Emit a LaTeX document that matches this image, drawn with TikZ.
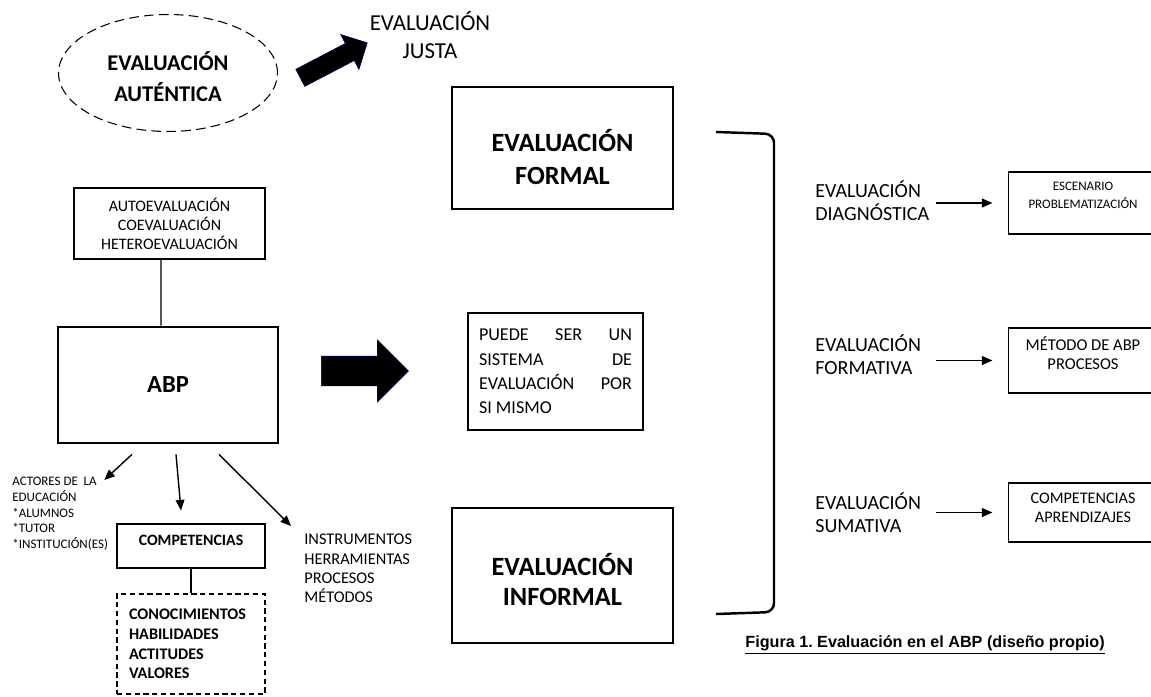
\documentclass[tikz,border=0pt]{standalone}
\usepackage{fontspec}
\setmainfont{Carlito}
\newfontfamily\capfont{Liberation Sans}
\usepackage{tikz}
\usetikzlibrary{
    arrows.meta,
    positioning,
    calc,
    shapes,
    shapes.geometric,
    shapes.arrows
}
\tikzset{
    smalltip /.tip = {Triangle[length=6pt,width=5pt]}
  }
\tikzset{
    thickbox/.style = {draw, line width=1.6pt, align=center, inner sep=0pt},
    thinbox/.style = {draw, line width=0.6pt, align=center, inner sep=0pt},
    rightbox/.style = {thinbox, minimum width=3cm},
    fatarrow/.style = {single arrow, fill=black, draw=blue!35!black,
      line width=0.4pt, inner xsep=0pt, text height=0pt, text depth=0pt,
      anchor=tail},
    thinarrow/.style = {-smalltip, line width=0.8pt},
    evallabel/.style = {anchor=west, align=left, inner sep=0pt,
      font=\fsz{11.4}{13.2}}
  }
\newcommand{\fsz}[2]{\fontsize{#1}{#2}\selectfont}

\begin{document}
\begin{tikzpicture}[x=0.02cm,y=-0.02cm]

\clip (0,0) rectangle (1151,696);

\node[ellipse, draw, dashed, dash pattern=on 5.5pt off 3pt, line width=0.6pt,
      minimum width=4.38cm, minimum height=2.34cm, inner sep=0pt,
      text height=32pt, align=center, font=\fsz{12.8}{17.6}\bfseries]
  at (168,73) (autentica) {EVALUACIÓN\\AUTÉNTICA};

\node[fatarrow, inner ysep=0.185cm, single arrow head extend=0.2cm,
      minimum height=1.51cm, rotate=27.6]
  at (300,78) (arrowjusta) {};

\node[align=center, font=\fsz{13}{16.4}]
  at (430,35) (justa) {EVALUACIÓN\\JUSTA};


\node[thinbox, minimum width=3.82cm, minimum height=1.42cm,
      font=\fsz{9.1}{10.8}]
  at (169.5,223.5) (tipos) {AUTOEVALUACIÓN\\COEVALUACIÓN\\HETEROEVALUACIÓN};

\node[thickbox, minimum width=4.4cm, minimum height=2.32cm,
      font=\fsz{14}{17}\bfseries]
  at (168,385) (abp) {ABP};

\draw[line width=0.6pt] ([xshift=-0.17cm]tipos.south) -- ([xshift=-0.14cm]abp.north);

\node[fatarrow, inner ysep=0.29cm, single arrow head extend=0.32cm,
      minimum height=1.74cm]
  at (321,371) (arrowabp) {};


\node[anchor=north west, align=left, inner sep=0pt, font=\fsz{7.4}{8.9}]
  at (12,477) (actores)
  {ACTORES DE~~LA\\EDUCACIÓN\\*ALUMNOS\\*TUTOR\\*INSTITUCIÓN(ES)};

\node[thinbox, minimum width=2.96cm, minimum height=0.88cm, text depth=7pt,
      font=\fsz{9}{11}\bfseries]
  at (191,546) (compe) {COMPETENCIAS};

\node[draw, dashed, dash pattern=on 3pt off 2pt, line width=0.6pt,
      minimum width=2.96cm, minimum height=2cm, inner xsep=0.24cm,
      text width=2.48cm, align=left, font=\fsz{9.2}{11.2}\bfseries]
  at (191,644) (saberes) {CONOCIMIENTOS\\HABILIDADES\\ACTITUDES\\VALORES};

\draw[line width=0.6pt] (compe.south) -- (saberes.north);

\node[anchor=north west, align=left, inner sep=0pt, font=\fsz{9.3}{11}]
  at (304,534) (instrumentos)
  {INSTRUMENTOS\\HERRAMIENTAS\\PROCESOS\\MÉTODOS};

\draw[thinarrow] ([shift={(-36,10)}]abp.south) -- ([shift={(-4,3)}]actores.north east);
\draw[thinarrow] ([shift={(8,10)}]abp.south) -- ([shift={(-10,-13)}]compe.north);
\draw[thinarrow] ([shift={(51,10)}]abp.south) -- ([shift={(-13,-8)}]instrumentos.north west);


\node[thickbox, minimum width=4.42cm, minimum height=2.44cm, text height=41.9pt,
      font=\fsz{15}{18.7}\bfseries]
  at (562.5,148) (formal) {EVALUACIÓN\\FORMAL};

\node[thinbox, minimum width=3.5cm, minimum height=2.34cm, inner xsep=0.22cm,
      text width=3.06cm, align=justify, font=\fsz{10.3}{13.8}]
  at (555.5,371.5) (sistema)
  {PUEDE SER UN\linebreak SISTEMA DE\linebreak EVALUACIÓN POR\linebreak SI MISMO};

\node[thickbox, minimum width=4.42cm, minimum height=2.7cm, text height=34pt,
      font=\fsz{15}{17}\bfseries]
  at (562.5,575.5) (informal) {EVALUACIÓN\\INFORMAL};

\draw[line width=1.4pt, rounded corners=5pt]
  (716,132) -- (774,134) -- (774,612) -- (716,614);


\node[evallabel] at (815,201) (diagnostica) {EVALUACIÓN\\DIAGNÓSTICA};
\node[evallabel] at (815,355) (formativa) {EVALUACIÓN\\FORMATIVA};
\node[evallabel] at (815,513) (sumativa) {EVALUACIÓN\\SUMATIVA};

\node[rightbox, minimum height=1.24cm, text depth=9pt,
      font=\fsz{7.4}{10.2}]
  at (1083,203) (escenario) {ESCENARIO\\PROBLEMATIZACIÓN};

\node[rightbox, minimum height=1.3cm, text depth=8pt,
      font=\fsz{9.4}{10.8}]
  at (1083,360.5) (metodo) {MÉTODO DE ABP\\PROCESOS};

\node[rightbox, minimum height=1.18cm, text depth=5.6pt,
      font=\fsz{9.2}{10.8}]
  at (1083,512.5) (aprendizajes) {COMPETENCIAS\\APRENDIZAJES};

\draw[thinarrow] ([xshift=-1.44cm]escenario.west) -- ([xshift=-0.3cm]escenario.west);
\draw[thinarrow] ([xshift=-1.44cm]metodo.west) -- ([xshift=-0.3cm]metodo.west);
\draw[thinarrow] ([xshift=-1.44cm]aprendizajes.west) -- ([xshift=-0.3cm]aprendizajes.west);

\node[font=\capfont\fsz{9.2}{11}\bfseries\frenchspacing]
  at (925,645) (caption) {\underline{Figura 1. Evaluación en el ABP (diseño propio)}};

\end{tikzpicture}
\end{document}
